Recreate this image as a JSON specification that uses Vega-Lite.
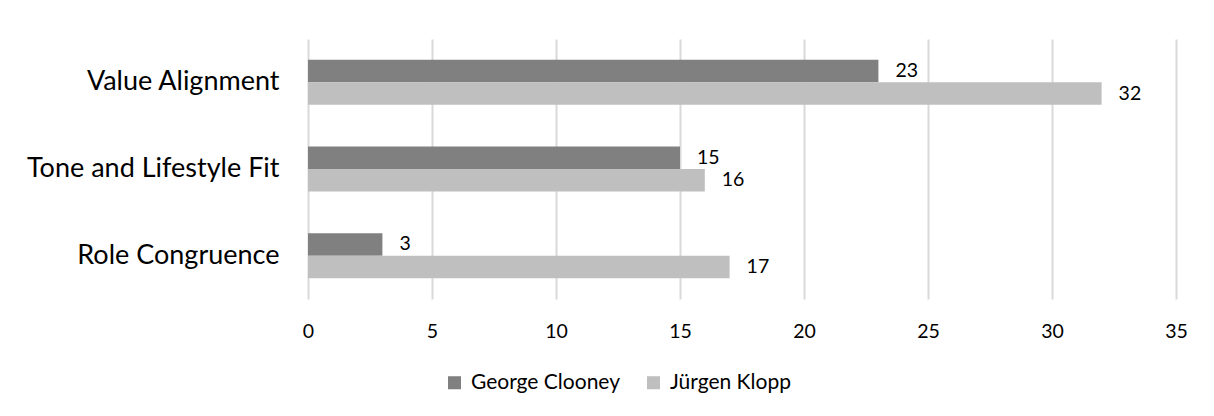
{
  "$schema": "https://vega.github.io/schema/vega-lite/v6.json",
  "width": 868,
  "height": 260,
  "autosize": "none",
  "padding": {"left": 308, "top": 39, "right": 38, "bottom": 117},
  "background": "white",
  "config": {
    "font": "Lato",
    "view": {"stroke": null},
    "axis": {"labelFont": "Lato", "labelColor": "#000000"}
  },
  "data": {
    "values": [
      {"category": "Value Alignment", "person": "George Clooney", "score": 23},
      {"category": "Value Alignment", "person": "Jürgen Klopp", "score": 32},
      {"category": "Tone and Lifestyle Fit", "person": "George Clooney", "score": 15},
      {"category": "Tone and Lifestyle Fit", "person": "Jürgen Klopp", "score": 16},
      {"category": "Role Congruence", "person": "George Clooney", "score": 3},
      {"category": "Role Congruence", "person": "Jürgen Klopp", "score": 17}
    ]
  },
  "encoding": {
    "y": {
      "field": "category",
      "type": "nominal",
      "sort": ["Value Alignment", "Tone and Lifestyle Fit", "Role Congruence"],
      "scale": {"paddingInner": 0.48, "paddingOuter": 0.24},
      "axis": {
        "title": null,
        "domain": false,
        "ticks": false,
        "grid": false,
        "labelFontSize": 27,
        "labelLimit": 400,
        "labelPadding": 29
      }
    },
    "yOffset": {
      "field": "person",
      "type": "nominal",
      "sort": ["George Clooney", "Jürgen Klopp"]
    },
    "x": {
      "field": "score",
      "type": "quantitative",
      "scale": {"domain": [0, 35], "nice": false},
      "axis": {
        "title": null,
        "values": [0, 5, 10, 15, 20, 25, 30, 35],
        "domain": false,
        "ticks": false,
        "grid": true,
        "gridColor": "#d9d9d9",
        "gridWidth": 2,
        "labelFontSize": 19.5,
        "labelPadding": 23,
        "labelFlush": false
      }
    }
  },
  "layer": [
    {
      "mark": {"type": "bar", "cornerRadius": 0},
      "encoding": {
        "color": {
          "field": "person",
          "type": "nominal",
          "sort": ["George Clooney", "Jürgen Klopp"],
          "scale": {"range": ["#808080", "#bfbfbf"]},
          "legend": {
            "title": null,
            "orient": "none",
            "direction": "horizontal",
            "legendX": 136,
            "legendY": 333,
            "symbolType": "square",
            "symbolSize": 170,
            "symbolStrokeWidth": 0,
            "labelFontSize": 21,
            "labelFont": "Lato",
            "labelColor": "#000000",
            "labelLimit": 300,
            "columnPadding": 23,
            "labelOffset": 6
          }
        }
      }
    },
    {
      "mark": {"type": "text", "align": "left", "baseline": "middle", "dx": 17, "fontSize": 19.5, "color": "#000000"},
      "encoding": {
        "text": {"field": "score", "type": "quantitative"}
      }
    }
  ]
}
